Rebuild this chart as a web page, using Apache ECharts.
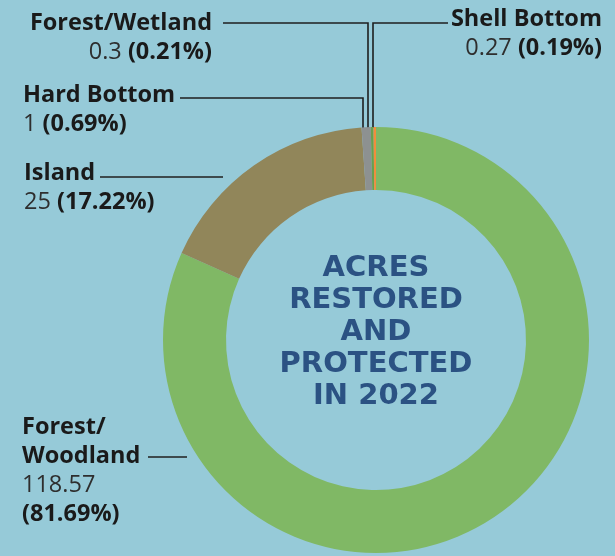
<!DOCTYPE html>
<html><head><meta charset="utf-8">
<script src="https://cdn.jsdelivr.net/npm/echarts@6/dist/echarts.min.js"></script>
<style>html,body{margin:0;padding:0;background:#96cad8}#chart{width:615px;height:556px}</style>
</head><body><div id="chart"></div>
<script>
// ---- data ----
const categories = ['Forest/Woodland', 'Island', 'Hard Bottom', 'Forest/Wetland', 'Shell Bottom'];
const acres = [118.57, 25, 1, 0.3, 0.27];
const labelNames = ['Forest/\nWoodland', 'Island', 'Hard Bottom', 'Forest/Wetland', 'Shell Bottom'];
const centerLines = ['ACRES', 'RESTORED', 'AND', 'PROTECTED', 'IN 2022'];

// ---- styling / layout ----
const colors = ['#80b865', '#91865a', '#8d9191', '#68a04f', '#f28c3c'];
const labelPlacement = [
  { x: 22, y: 413, align: 'left',  line: [[187, 457], [148, 457]] },
  { x: 24, y: 159, align: 'left',  line: [[223, 177], [100, 177]] },
  { x: 23, y: 80.5, align: 'left', line: [[363, 128], [363, 98], [180, 98]] },
  { x: 212, y: 8.5, align: 'right', line: [[368, 128], [368, 23], [223, 23]] },
  { x: 602, y: 4.5, align: 'right', line: [[373, 128], [373, 23], [448, 23]] }
];

const chart = echarts.init(document.getElementById('chart'), null, { renderer: 'canvas' });
const FONT = '"Open Sans", "Noto Sans", sans-serif';

chart.setOption({
  backgroundColor: '#96cad8',
  animation: false,
  graphic: [{
    type: 'text',
    x: 376, y: 252,
    silent: true,
    style: {
      text: centerLines.join('\n'),
      font: 'bold 29px "DejaVu Sans", sans-serif',
      lineHeight: 32,
      align: 'center',
      verticalAlign: 'top',
      fill: '#2b5283'
    }
  }],
  series: [{
    type: 'pie',
    center: [376, 340],
    radius: [150, 213],
    startAngle: 90,
    clockwise: true,
    avoidLabelOverlap: false,
    emphasis: { disabled: true },
    itemStyle: { borderWidth: 0 },
    data: categories.map((c, i) => ({ name: c, value: acres[i], itemStyle: { color: colors[i] } })),
    label: {
      show: true,
      position: 'outside',
      formatter: function (p) {
        const i = p.dataIndex;
        const nameLines = labelNames[i].split('\n').map(s => '{n|' + s + '}').join('\n');
        const pct = '(' + p.percent.toFixed(2) + '%)';
        if (i === 0) {
          return nameLines + '\n{v|' + acres[i] + '}\n{p|' + pct + '}';
        }
        return nameLines + '\n{v|' + acres[i] + ' }{p|' + pct + '}';
      },
      rich: {
        n: { fontFamily: FONT, fontWeight: 'bold', fontSize: 23.5, lineHeight: 29, color: '#1a1a1a' },
        v: { fontFamily: FONT, fontWeight: 'normal', fontSize: 23.5, lineHeight: 29, color: '#2e2e2e' },
        p: { fontFamily: FONT, fontWeight: 'bold', fontSize: 23.5, lineHeight: 29, color: '#1a1a1a' }
      }
    },
    labelLine: {
      show: true,
      length: 10,
      length2: 10,
      smooth: false,
      lineStyle: { color: '#1f1f1f', width: 1.6 }
    },
    labelLayout: function (params) {
      const L = labelPlacement[params.dataIndex];
      return {
        x: L.x,
        y: L.y,
        align: L.align,
        verticalAlign: 'top',
        labelLinePoints: L.line
      };
    }
  }]
});
</script></body></html>
